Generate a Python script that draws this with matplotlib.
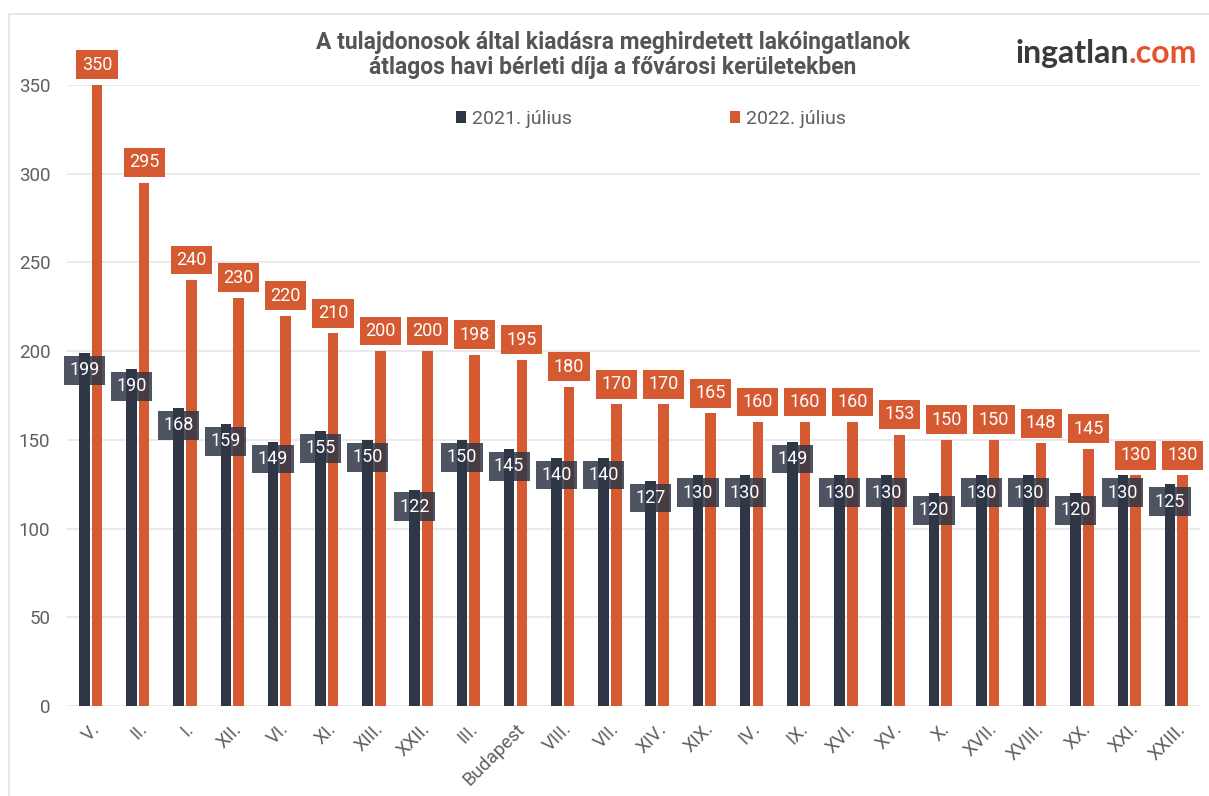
import matplotlib
matplotlib.use("Agg")
import matplotlib.pyplot as plt
import numpy as np
from matplotlib.patches import Rectangle

plt.rcParams['font.family'] = ['Roboto', 'DejaVu Sans']

categories = ["V.", "II.", "I.", "XII.", "VI.", "XI.", "XIII.", "XXII.", "III.", "Budapest",
              "VIII.", "VII.", "XIV.", "XIX.", "IV.", "IX.", "XVI.", "XV.", "X.", "XVII.",
              "XVIII.", "XX.", "XXI.", "XXIII."]
values_2021 = [199, 190, 168, 159, 149, 155, 150, 122, 150, 145, 140, 140, 127, 130, 130,
               149, 130, 130, 120, 130, 130, 120, 130, 125]
values_2022 = [350, 295, 240, 230, 220, 210, 200, 200, 198, 195, 180, 170, 170, 165, 160,
               160, 160, 153, 150, 150, 148, 145, 130, 130]
series_names = ["2021. július", "2022. július"]
yticks = [0, 50, 100, 150, 200, 250, 300, 350]

DARK = '#2f3645'
ORANGE = '#d65a31'
GRID = '#e6e6e6'
TXT = '#606060'

W, H = 1209, 796
fig = plt.figure(figsize=(W / 100, H / 100), dpi=100)
ax = fig.add_axes([67 / W, 1 - 706 / H, (1200 - 67) / W, (706 - 85) / H])

# outer frame
fig.add_artist(Rectangle((9 / W, -0.1), 1.2, 1 - 14 / H + 0.1, transform=fig.transFigure,
                         fill=False, edgecolor='#e3e3e3', linewidth=1.2))

x = np.arange(len(categories))
bw = 0.225
off = 0.135
ax.bar(x - off, values_2021, bw, color=DARK, zorder=3, label=series_names[0])
ax.bar(x + off, values_2022, bw, color=ORANGE, zorder=3, label=series_names[1])

ax.set_xlim(-0.5, len(categories) - 0.5)
ax.set_ylim(0, 350)
ax.set_yticks(yticks)
ax.yaxis.grid(True, color=GRID, linewidth=1.2, zorder=0)
ax.set_axisbelow(True)
for s in ax.spines.values():
    s.set_visible(False)
ax.tick_params(axis='both', length=0, labelsize=13.5, labelcolor=TXT)
ax.tick_params(axis='y', pad=12)
ax.set_xticks(x)
ax.set_xticklabels(categories, rotation=45, ha='right', va='top', rotation_mode='anchor')
ax.tick_params(axis='x', pad=10)

for xi, v in zip(x, values_2021):
    ax.annotate(str(v), xy=(xi - off, v), xytext=(0, -12.5), textcoords='offset points',
                ha='center', va='center', fontsize=13, color='white', zorder=5,
                bbox=dict(boxstyle='square,pad=0.3', facecolor=DARK, edgecolor='none', alpha=0.85),
                annotation_clip=False)
for xi, v in zip(x, values_2022):
    ax.annotate(str(v), xy=(xi + off, v), xytext=(0, 8.0), textcoords='offset points',
                ha='center', va='bottom', fontsize=13, color='white', zorder=6,
                bbox=dict(boxstyle='square,pad=0.3', facecolor=ORANGE, edgecolor='none'),
                annotation_clip=False)

# title
fig.text(613 / W, 1 - 55 / H, "A tulajdonosok által kiadásra meghirdetett lakóingatlanok\n"
         "átlagos havi bérleti díja a fővárosi kerületekben",
         ha='center', va='center', fontsize=16.5, fontweight='bold', color='#555555',
         linespacing=1.15)

# legend
leg = fig.legend(loc='center', bbox_to_anchor=(651 / W, 1 - 119 / H), ncol=2, frameon=False,
                 fontsize=14, handlelength=0.55, handleheight=0.55, handletextpad=0.3,
                 columnspacing=8.1, labelcolor=TXT)

# logo
t2 = fig.text(1197 / W, 1 - 68 / H, ".com", ha='right', va='bottom', fontsize=23,
              fontweight='bold', color='#e5532d', family=['Lato', 'DejaVu Sans'])
ax.annotate("ingatlan", xy=(0, 0), xycoords=t2, ha='right', va='bottom', fontsize=23,
            fontweight='bold', color='#3a3a3a', family=['Lato', 'DejaVu Sans'],
            annotation_clip=False)

fig.savefig("out.png", dpi=100)
